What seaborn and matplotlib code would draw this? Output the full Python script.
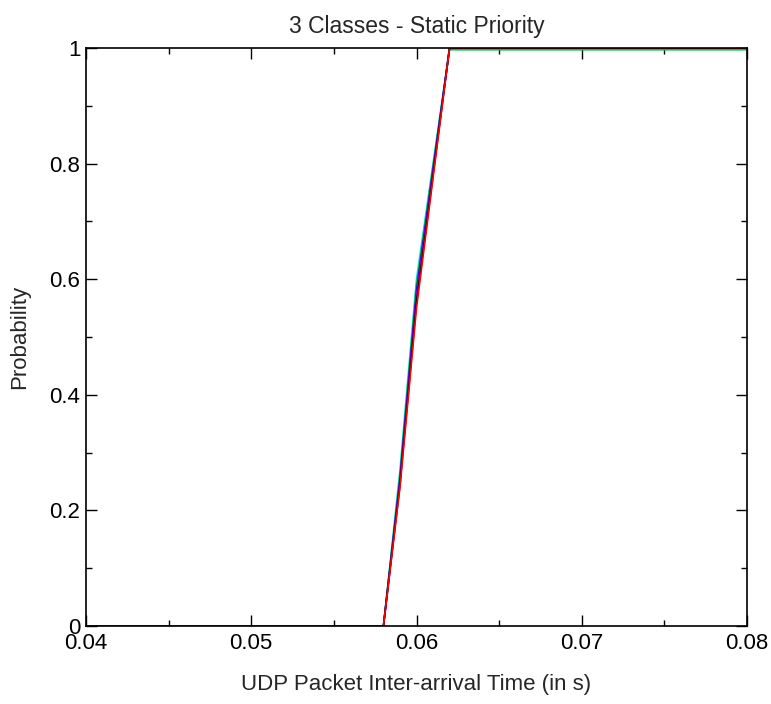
import numpy as np
import pandas as pd
import matplotlib
matplotlib.use("Agg")
import matplotlib.pyplot as plt
import seaborn as sns
from matplotlib.ticker import MultipleLocator

# Data: CDF of UDP packet inter-arrival time for several series
x_vals = [0.040, 0.058, 0.059, 0.060, 0.061, 0.062, 0.080]
series_names = ["s1", "s2", "s3", "s4", "s5", "s6"]
series_colors = ["#00e0e0", "#00c040", "#0000ff", "#c000c0", "#000000", "#ff0000"]
cdf_s1 = [0.0, 0.0, 0.27, 0.60, 0.80, 1.0, 1.0]
cdf_s2 = [0.0, 0.0, 0.26, 0.59, 0.795, 0.997, 0.997]
cdf_s3 = [0.0, 0.0, 0.255, 0.58, 0.79, 1.0, 1.0]
cdf_s4 = [0.0, 0.0, 0.25, 0.57, 0.785, 1.0, 1.0]
cdf_s5 = [0.0, 0.0, 0.245, 0.56, 0.78, 1.0, 1.0]
cdf_s6 = [0.0, 0.0, 0.24, 0.55, 0.775, 1.0, 1.0]
all_cdfs = [cdf_s1, cdf_s2, cdf_s3, cdf_s4, cdf_s5, cdf_s6]

x_ticks = [0.04, 0.05, 0.06, 0.07, 0.08]
x_tick_labels = ["0.04", "0.05", "0.06", "0.07", "0.08"]
y_ticks = [0, 0.2, 0.4, 0.6, 0.8, 1.0]
y_tick_labels = ["0", "0.2", "0.4", "0.6", "0.8", "1"]

rows = []
for name, vals in zip(series_names, all_cdfs):
    for xv, yv in zip(x_vals, vals):
        rows.append({"x": xv, "y": yv, "series": name})
df = pd.DataFrame(rows)

sns.set_style("ticks")
plt.rcParams["font.family"] = ["Liberation Sans", "DejaVu Sans"]

fig = plt.figure(figsize=(7.71, 7.04), dpi=100)
ax = fig.add_axes([86 / 771, 1 - 626 / 704, (747 - 86) / 771, (626 - 48) / 704])

sns.lineplot(data=df, x="x", y="y", hue="series", palette=dict(zip(series_names, series_colors)),
             ax=ax, legend=False, linewidth=1.2, sort=False, estimator=None)

ax.set_xlim(0.04, 0.08)
ax.set_ylim(0, 1)
ax.set_xticks(x_ticks)
ax.set_xticklabels(x_tick_labels)
ax.set_yticks(y_ticks)
ax.set_yticklabels(y_tick_labels)
ax.xaxis.set_minor_locator(MultipleLocator(0.005))
ax.yaxis.set_minor_locator(MultipleLocator(0.1))
ax.tick_params(which="both", direction="in", top=True, right=True, labelsize=16, colors="black")
ax.tick_params(which="major", length=8, width=1)
ax.tick_params(which="minor", length=4, width=1)
ax.tick_params(axis="x", pad=5)
ax.tick_params(axis="y", pad=4)
for s in ax.spines.values():
    s.set_color("black")
    s.set_linewidth(1.2)

ax.set_xlabel("UDP Packet Inter-arrival Time (in s)", fontsize=16)
ax.xaxis.set_label_coords(0.5, -0.083)
ax.set_ylabel("Probability", fontsize=16)
ax.yaxis.set_label_coords(-0.085, 0.5)
ax.set_title("3 Classes - Static Priority", fontsize=16.5, pad=11)

fig.savefig("out.png", dpi=100)
